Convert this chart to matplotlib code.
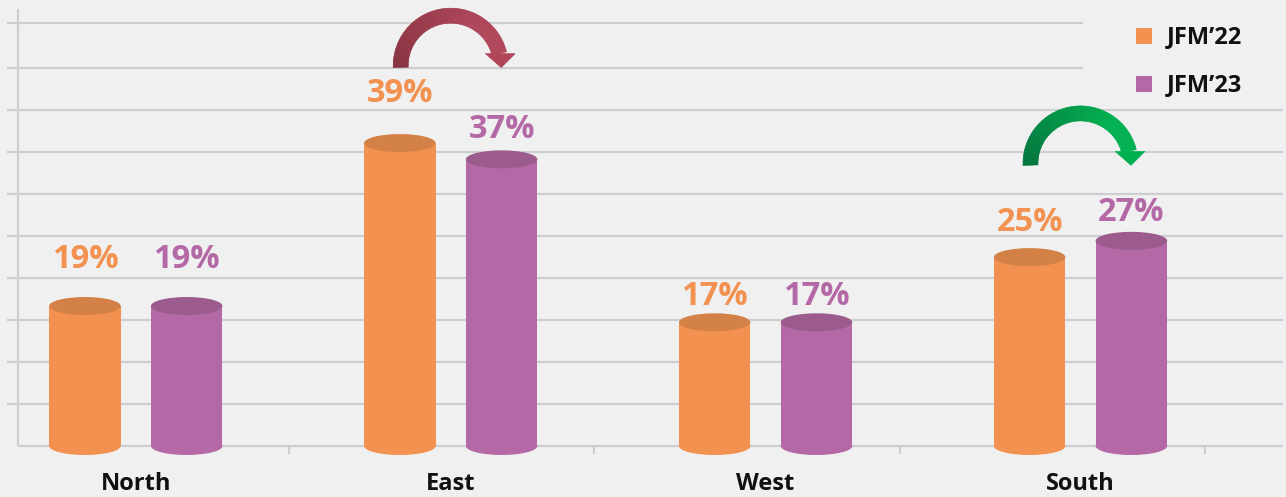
import numpy as np
import matplotlib
matplotlib.use("Agg")
import matplotlib.pyplot as plt
from matplotlib.patches import Ellipse, Rectangle, Polygon
from matplotlib.collections import PolyCollection
import matplotlib.colors as mcolors

# ---------------- data ----------------
categories = ["North", "East", "West", "South"]
series_names = ["JFM\u201922", "JFM\u201923"]
jfm22 = [19, 39, 17, 25]
jfm23 = [19, 37, 17, 27]

# label lift above bar top (value units), per bar
label_lift_22 = [4.7, 5.0, 2.1, 3.2]
label_lift_23 = [4.7, 2.6, 2.1, 2.4]

# ---------------- style ----------------
W, H = 1286, 497
BG = "#F0F0F0"
GRID = "#CDCED2"
BODY = ["#F29150", "#B469A6"]
TOP = ["#D38146", "#9B5C8D"]
UP = ("#00733A", "#00B050")
DOWN = ("#87303F", "#B04558")
FONT = ["Open Sans", "DejaVu Sans"]

plt.rcParams["font.family"] = FONT

# pixel <-> data mapping
X0_PX, X_STEP_PX = 135.8, 314.9
Y0_PX, Y_SCALE = 460.8, 8.147


def px2x(px):
    return (px - X0_PX) / X_STEP_PX


def py2v(py):
    return (Y0_PX - py) / Y_SCALE


SX = 1.0 / X_STEP_PX  # data per px (x)
SY = 1.0 / Y_SCALE    # data per px (y)

fig = plt.figure(figsize=(W / 100, H / 100), dpi=100, facecolor=BG)
ax = fig.add_axes([0, 0, 1, 1])
ax.set_facecolor(BG)
ax.set_xlim(px2x(0), px2x(W))
ax.set_ylim(py2v(H), py2v(0))
ax.axis("off")

floor = py2v(446)

# grid lines
grid_py = [446 - 42 * k for k in range(1, 10)] + [23]
for gy in grid_py:
    right = 1083 if gy < 90 else 1283
    ax.hlines(py2v(gy), px2x(7), px2x(right), color=GRID, lw=1.6, zorder=1)
# axes
ax.vlines(px2x(17.5), py2v(446), py2v(9), color=GRID, lw=1.6, zorder=1)
ax.hlines(floor, px2x(17.5), px2x(1283), color=GRID, lw=1.6, zorder=1)
for tp in 289 + 305.3 * np.arange(4):
    ax.vlines(px2x(tp), py2v(446), py2v(454), color=GRID, lw=1.6, zorder=1)

# cylinders
x = np.arange(len(categories))
bar_w = 71.5 * SX
off = 50.9 * SX
ell_h = 18 * SY
for s, (vals, lifts) in enumerate([(jfm22, label_lift_22), (jfm23, label_lift_23)]):
    xs = x + (-off if s == 0 else off)
    vals = np.array(vals, dtype=float)
    ax.bar(xs, vals - floor, bottom=floor, width=bar_w, color=BODY[s],
           zorder=3, linewidth=0)
    for xi, v, lf in zip(xs, vals, lifts):
        ax.add_patch(Ellipse((xi, floor), bar_w, ell_h, color=BODY[s], zorder=2.9, lw=0))
        ax.add_patch(Ellipse((xi, v), bar_w, ell_h, color=TOP[s], zorder=4, lw=0))
        ax.text(xi, v + lf, f"{int(v)}%", ha="center", va="baseline",
                color=BODY[s], fontsize=23.5, fontweight="bold", zorder=5)

# category labels
for i, name in enumerate(categories):
    ax.text(i, py2v(490), name, ha="center", va="baseline", fontsize=17,
            fontweight="bold", color="#111111")


# curved change arrows
def draw_arrow(cx, cy, dark, light):
    r_mid, half = 50.0, 7.5
    thetas = np.radians(np.linspace(182, 14, 90))
    c0 = np.array(mcolors.to_rgb(dark))
    c1 = np.array(mcolors.to_rgb(light))
    polys, cols = [], []
    for j in range(len(thetas) - 1):
        t0, t1 = thetas[j], thetas[j + 1]
        ro, ri = r_mid + half, r_mid - half
        pts = [
            (cx + ro * np.cos(t0) * SX, cy + ro * np.sin(t0) * SY),
            (cx + ro * np.cos(t1) * SX, cy + ro * np.sin(t1) * SY),
            (cx + ri * np.cos(t1) * SX, cy + ri * np.sin(t1) * SY),
            (cx + ri * np.cos(t0) * SX, cy + ri * np.sin(t0) * SY),
        ]
        f = j / (len(thetas) - 2)
        f = min(1.0, f * 1.3)
        polys.append(pts)
        cols.append(tuple(c0 + (c1 - c0) * f))
    pc = PolyCollection(polys, facecolors=cols, edgecolors=cols, linewidths=0.4, zorder=6)
    ax.add_collection(pc)
    te = thetas[-1]
    ex_px, ey_px = r_mid * np.cos(te), r_mid * np.sin(te)
    head = [
        (cx + (ex_px - 14) * SX, cy + ey_px * SY),
        (cx + (ex_px + 16) * SX, cy + ey_px * SY),
        (cx + (ex_px + 2) * SX, cy + (ey_px - 14) * SY),
    ]
    ax.add_patch(Polygon(head, closed=True, facecolor=light, edgecolor=light,
                         lw=0.4, zorder=6))


for i in range(len(categories)):
    a, b = jfm22[i], jfm23[i]
    if a == b:
        continue
    dark, light = UP if b > a else DOWN
    draw_arrow(i, max(a, b) + 9.5, dark, light)

# legend
for s, name in enumerate(series_names):
    top_px = 28 + 48 * s
    fig.add_artist(Rectangle((1136 / W, 1 - (top_px + 16) / H), 16 / W, 16 / H,
                             transform=fig.transFigure, color=BODY[s], lw=0))
    fig.text(1167 / W, 1 - (43 + 48 * s) / H, name, ha="left", va="baseline",
             fontsize=17, fontweight="bold", color="#111111")

fig.savefig("out.png", dpi=100, facecolor=BG)
